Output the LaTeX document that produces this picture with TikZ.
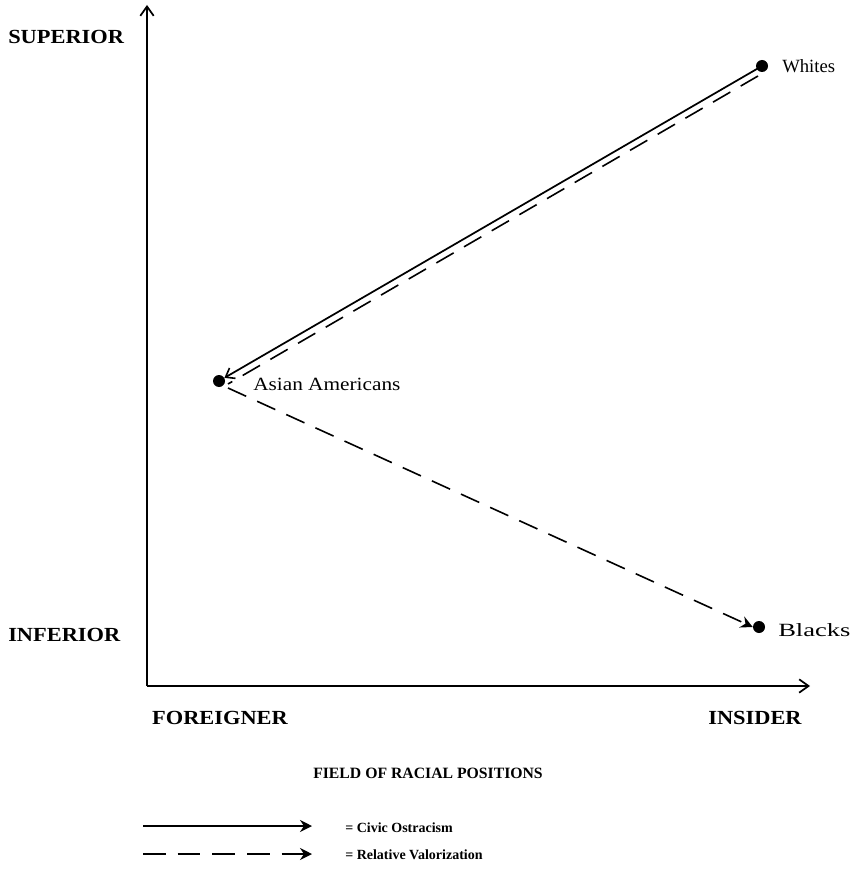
\documentclass[tikz,border=0pt]{standalone}
\usepackage{fontspec}
\setmainfont{Liberation Serif}
\usetikzlibrary{arrows.meta}
\tikzset{
  axisline/.style={line width=1.4pt,-{Straight Barb[length=7pt,width=10pt,line width=1.3pt]}},
  pt/.style={circle,fill=black,inner sep=0pt,minimum size=9pt},
  caplab/.style={font=\bfseries\fontsize{15}{17}\selectfont\addfontfeature{FakeStretch=1.12},inner sep=0pt},
  namelab/.style={font=\fontsize{14}{16}\selectfont,inner sep=0pt,anchor=west},
  legtext/.style={font=\bfseries\fontsize{10.5}{12}\selectfont,inner sep=0pt,anchor=west},
  solidarrow/.style={line width=1.3pt,-{Straight Barb[length=6pt,width=9pt,line width=1.2pt]}},
  dashline/.style={line width=1.2pt,dash pattern=on 15pt off 9pt},
  stealthtip/.style={-{Stealth[length=9pt,width=9pt,inset=3pt]}}
}
\begin{document}
\begin{tikzpicture}[x=0.75pt,y=-0.75pt]
\useasboundingbox (0,0) rectangle (866,884);
% axes
\coordinate (O) at (147,686);
\coordinate (ytop) at (147,5);
\coordinate (xend) at (810,686);
\draw[axisline] (O) -- (ytop);
\draw[axisline] (O) -- (xend);
% axis labels
\node[caplab,anchor=west] (sup) at (8,37) {SUPERIOR};
\node[caplab,anchor=west] (inf) at (8,635) {INFERIOR};
\node[caplab] (for) at (220,718) {FOREIGNER};
\node[caplab] (ins) at (755,718) {INSIDER};
\node[font=\bfseries\fontsize{11.8}{14}\selectfont,inner sep=0pt] (field) at (428,773) {FIELD OF RACIAL POSITIONS};
% points
\node[pt] (W) at (762,66) {};
\node[pt] (A) at (219,381) {};
\node[pt] (B) at (759,627) {};
\node[namelab] (Wl) at (782,66) {Whites};
\node[namelab,font=\fontsize{14}{16}\selectfont\addfontfeature{FakeStretch=1.14}] (Al) at (253,384) {Asian Americans};
\node[namelab,font=\fontsize{14}{16}\selectfont\addfontfeature{FakeStretch=1.42}] (Bl) at (778,630) {Blacks};
% connectors
\draw[solidarrow] (W.center) -- (A);
\draw[dashline] ([shift={(-4,10)}]W.center) -- ([shift={(9,3)}]A.center);
\draw[dashline,stealthtip] ([shift={(9,7)}]A.center) -- (B.west);
% legend
\coordinate (l1a) at (143,826);
\coordinate (l1b) at (312,826);
\coordinate (l2a) at (143,854);
\coordinate (l2b) at (312,854);
\draw[line width=1.3pt,stealthtip] (l1a) -- (l1b);
\draw[line width=1.3pt,dash pattern=on 17pt off 9pt,stealthtip] (l2a) -- (l2b);
\node[legtext] (t1) at (345,828) {= Civic Ostracism};
\node[legtext] (t2) at (345,855) {= Relative Valorization};
\end{tikzpicture}
\end{document}
